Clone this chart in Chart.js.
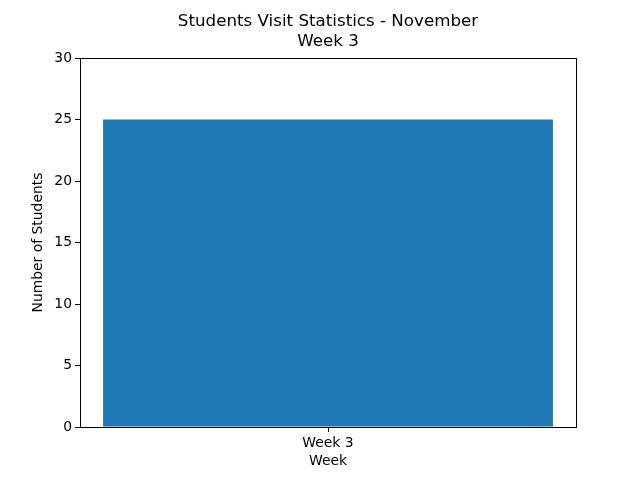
<!DOCTYPE html>
<html>
<head>
<meta charset="utf-8">
<script src="https://cdn.jsdelivr.net/npm/chart.js@4"></script>
<style>
  html, body { margin: 0; padding: 0; background: #ffffff; }
</style>
</head>
<body>
<canvas id="visitChart" width="640" height="480"></canvas>
<script>
// Data
var weekLabels = ['Week 3'];
var studentCounts = [25];
var yTicks = [0, 5, 10, 15, 20, 25, 30];
var titleLines = ['Students Visit Statistics - November', 'Week 3'];

// Frame around the plot area + title centred over the axes (matplotlib style)
var framePlugin = {
    id: 'frame',
    afterDraw: function(chart) {
        var a = chart.chartArea;
        var ctx = chart.ctx;
        ctx.save();
        ctx.strokeStyle = '#000000';
        ctx.lineWidth = 1;
        ctx.strokeRect(Math.round(a.left) + 0.5, Math.round(a.top) + 0.5,
            Math.round(a.right - a.left), Math.round(a.bottom - a.top));

        ctx.fillStyle = '#000000';
        ctx.font = '16.7px "DejaVu Sans"';
        ctx.textAlign = 'center';
        ctx.textBaseline = 'middle';
        var cx = (a.left + a.right) / 2;
        titleLines.forEach(function(line, i) {
            ctx.fillText(line, cx, 22 + i * 20);
        });
        ctx.restore();
    }
};

var ctx = document.getElementById('visitChart');
var visitChart = new Chart(ctx, {
    type: 'bar',
    data: {
        labels: weekLabels,
        datasets: [{
            label: 'Students',
            data: studentCounts,
            backgroundColor: '#1f77b4',
            borderWidth: 0,
            categoryPercentage: 1.0,
            barPercentage: 0.907
        }]
    },
    options: {
        responsive: false,
        animation: false,
        layout: {
            padding: { left: 0, right: 64, top: 58, bottom: 0 }
        },
        plugins: {
            legend: { display: false },
            tooltip: { enabled: false },
            title: { display: false }
        },
        scales: {
            y: {
                min: 0,
                max: 30,
                afterFit: function(scale) { scale.width = 80; },
                afterBuildTicks: function(scale) {
                    scale.ticks = yTicks.map(function(v) { return { value: v }; });
                },
                ticks: {
                    color: '#000000',
                    padding: 3,
                    font: { family: 'DejaVu Sans', size: 13.9 }
                },
                grid: {
                    display: true,
                    drawOnChartArea: false,
                    color: '#000000',
                    tickLength: 5
                },
                border: { display: true, color: '#000000' },
                title: {
                    display: true,
                    text: 'Number of Students',
                    color: '#000000',
                    font: { family: 'DejaVu Sans', size: 13.9 },
                    padding: { top: 30, bottom: 0 }
                }
            },
            x: {
                afterFit: function(scale) { scale.height = 53; },
                ticks: {
                    color: '#000000',
                    padding: 3,
                    font: { family: 'DejaVu Sans', size: 13.9 }
                },
                grid: {
                    display: true,
                    offset: false,
                    drawOnChartArea: false,
                    color: '#000000',
                    tickLength: 5
                },
                border: { display: true, color: '#000000' },
                title: {
                    display: true,
                    text: 'Week',
                    color: '#000000',
                    font: { family: 'DejaVu Sans', size: 13.9 },
                    padding: { top: 0, bottom: 10 }
                }
            }
        }
    },
    plugins: [framePlugin]
});
</script>
</body>
</html>
